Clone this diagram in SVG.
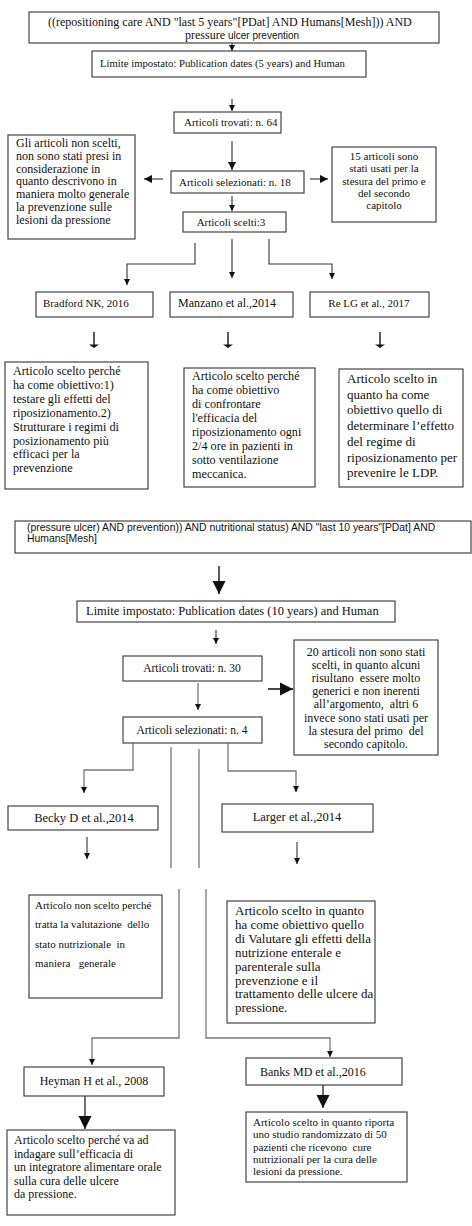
<svg xmlns="http://www.w3.org/2000/svg" width="472" height="1226" viewBox="0 0 472 1226">
<style>
.box{fill:#fff;stroke:#444;stroke-width:1.2}
.t{font-family:"Liberation Serif","Times New Roman",serif;fill:#111}
.s{font-family:"Liberation Sans",Arial,sans-serif;fill:#111}
.c{text-anchor:middle}
.ln{fill:none;stroke:#333;stroke-width:1.1}
.ln2{fill:none;stroke:#777;stroke-width:1.3}
.pre{white-space:pre}
</style>
<defs>
<marker id="as" viewBox="0 0 10 10" refX="10" refY="5" markerWidth="6" markerHeight="6" markerUnits="userSpaceOnUse" orient="auto"><path d="M0,0 L10,5 L0,10 z" fill="#111"/></marker>
<marker id="am" viewBox="0 0 10 10" refX="10" refY="5" markerWidth="8" markerHeight="8" markerUnits="userSpaceOnUse" orient="auto"><path d="M0,0 L10,5 L0,10 z" fill="#111"/></marker>
<marker id="ab" viewBox="0 0 10 10" refX="10" refY="5" markerWidth="13" markerHeight="14" markerUnits="userSpaceOnUse" orient="auto"><path d="M0,0 L10,5 L0,10 z" fill="#111"/></marker>
</defs>

<g id="connectors">
<path class="ln" d="M232,43 V51" marker-end="url(#as)"/>
<path class="ln" d="M232,99 V111" marker-end="url(#as)"/>
<path class="ln" d="M232,141 V170" marker-end="url(#am)"/>
<path class="ln" d="M163,179 H144" marker-end="url(#am)"/>
<path class="ln" d="M310,179 H328" marker-end="url(#am)"/>
<path class="ln" d="M232,196 V211" marker-end="url(#as)"/>
<path class="ln" d="M195,243 V264 H127 V285" marker-end="url(#as)"/>
<path class="ln" d="M232,239 V278" marker-end="url(#as)"/>
<path class="ln" d="M269,239 V264 H332 V279" marker-end="url(#as)"/>
<path class="ln" d="M94,332 V347 M228,332 V347 M380,332 V347" style="stroke-width:1.6"/>
<path d="M89,344.5 H99 L94,348 z M223,344.5 H233 L228,348 z M375,344.5 H385 L380,348 z" fill="#111"/>

<path class="ln" d="M219,566 V594" style="stroke-width:1.6" marker-end="url(#ab)"/>
<path class="ln" d="M216,630 V644" marker-end="url(#as)"/>
<path class="ln2" d="M198,683 V710" marker-end="url(#as)"/>
<path class="ln" d="M268,689 H293" style="stroke-width:1.8" marker-end="url(#ab)"/>
<path class="ln2" d="M133,743 V770 H84 V793" marker-end="url(#as)"/>
<path class="ln2" d="M171,747 V868"/>
<path class="ln2" d="M179,889 V1038 H92 V1065" marker-end="url(#as)"/>
<path class="ln2" d="M199,749 V868"/>
<path class="ln2" d="M206,889 V1038 H330 V1057" marker-end="url(#as)"/>
<path class="ln2" d="M228,743 V771 H296 V792" marker-end="url(#as)"/>
<path class="ln" d="M87,837 V859" marker-end="url(#as)"/>
<path class="ln" d="M297,842 V864" marker-end="url(#as)"/>
<path class="ln" d="M85,1096 V1129" style="stroke-width:1.4" marker-end="url(#ab)"/>
<path class="ln" d="M323,1085 V1108" style="stroke-width:1.4" marker-end="url(#ab)"/>
</g>

<g id="q1"><rect class="box" x="29" y="12" width="410" height="31"/>
<text class="t" x="48" y="26" font-size="12">((repositioning care AND "last 5 years"[PDat] AND Humans[Mesh])) AND</text>
<text x="185" y="39"><tspan class="t" font-size="12">pressure </tspan><tspan class="s" font-size="10">ulcer prevention</tspan></text></g>

<g id="lim1"><rect class="box" x="92" y="51" width="274" height="26"/>
<text class="t" x="100" y="67" font-size="10.7">Limite impostato: Publication dates (5 years) and Human</text></g>

<g id="trov1"><rect class="box" x="174" y="112" width="107" height="21"/>
<text class="t" x="184" y="126" font-size="11">Articoli trovati: n. 64</text></g>

<g id="sel1"><rect class="box" x="171" y="171" width="133" height="22"/>
<text class="t" x="179" y="186" font-size="11">Articoli selezionati: n. 18</text></g>

<g id="nonscelti1"><rect class="box" x="8" y="135" width="127" height="104"/>
<text class="t" x="16" y="147" font-size="12"><tspan x="16">Gli articoli non scelti,</tspan><tspan x="16" dy="12.8">non sono stati presi in</tspan><tspan x="16" dy="12.8">considerazione in</tspan><tspan x="16" dy="12.8">quanto descrivono in</tspan><tspan x="16" dy="12.8">maniera molto generale</tspan><tspan x="16" dy="12.8">la prevenzione sulle</tspan><tspan x="16" dy="12.8">lesioni da pressione</tspan></text></g>

<g id="usati1"><rect class="box" x="332" y="147" width="104" height="75"/>
<text class="t c" x="384" y="160" font-size="11"><tspan x="384">15 articoli sono</tspan><tspan x="384" dy="12.3">stati usati per la</tspan><tspan x="384" dy="12.3">stesura del primo e</tspan><tspan x="384" dy="12.3">del secondo</tspan><tspan x="384" dy="12.3">capitolo</tspan></text></g>

<g id="scelti1"><rect class="box" x="183" y="212" width="103" height="20"/>
<text class="t c" x="231" y="226" font-size="11">Articoli scelti:3</text></g>

<g id="bradford"><rect class="box" x="36" y="292" width="117" height="25"/>
<text class="t" x="43" y="307" font-size="11">Bradford NK, 2016</text></g>
<g id="manzano"><rect class="box" x="170" y="292" width="123" height="25"/>
<text class="t" x="178" y="307" font-size="12">Manzano et al.,2014</text></g>
<g id="relg"><rect class="box" x="310" y="292" width="119" height="25"/>
<text class="t c" x="369" y="307" font-size="11">Re LG et al., 2017</text></g>

<g id="art-bradford"><rect class="box" x="5" y="362" width="143" height="127"/>
<text class="t" x="13" y="375" font-size="12.2"><tspan x="13">Articolo scelto perché</tspan><tspan x="13" dy="13.9">ha come obiettivo:1)</tspan><tspan x="13" dy="13.9">testare gli effetti del</tspan><tspan x="13" dy="13.9">riposizionamento.2)</tspan><tspan x="13" dy="13.9">Strutturare i regimi di</tspan><tspan x="13" dy="13.9">posizionamento più</tspan><tspan x="13" dy="13.9">efficaci per la</tspan><tspan x="13" dy="13.9">prevenzione</tspan></text></g>

<g id="art-manzano"><rect class="box" x="184" y="368" width="131" height="119"/>
<text class="t" x="192" y="380" font-size="12.2"><tspan x="192">Articolo scelto perché</tspan><tspan x="192" dy="14">ha come obiettivo</tspan><tspan x="192" dy="14">di confrontare</tspan><tspan x="192" dy="14">l'efficacia del</tspan><tspan x="192" dy="14">riposizionamento ogni</tspan><tspan x="192" dy="14">2/4 ore in pazienti in</tspan><tspan x="192" dy="14">sotto ventilazione</tspan><tspan x="192" dy="14">meccanica.</tspan></text></g>

<g id="art-relg"><rect class="box" x="339" y="369" width="124" height="118"/>
<text class="t" x="347" y="383" font-size="13"><tspan x="347">Articolo scelto in</tspan><tspan x="347" dy="15.7">quanto ha come</tspan><tspan x="347" dy="15.7">obiettivo quello di</tspan><tspan x="347" dy="15.7">determinare l’effetto</tspan><tspan x="347" dy="15.7">del regime di</tspan><tspan x="347" dy="15.7">riposizionamento per</tspan><tspan x="347" dy="15.7">prevenire le LDP.</tspan></text></g>

<g id="q2"><rect class="box" x="15" y="521" width="456" height="32"/>
<text class="s" x="27" y="531" font-size="10.4"><tspan x="27">(pressure ulcer) AND prevention)) AND nutritional status) AND "last 10 years"[PDat] AND</tspan><tspan x="27" dy="11">Humans[Mesh]</tspan></text></g>

<g id="lim2"><rect class="box" x="77" y="601" width="318" height="21"/>
<text class="t" x="86" y="615" font-size="12.5">Limite impostato: Publication dates (10 years) and Human</text></g>

<g id="trov2"><rect class="box" x="123" y="656" width="139" height="25"/>
<text class="t c" x="192" y="672" font-size="11.5">Articoli trovati: n. 30</text></g>

<g id="sel2"><rect class="box" x="123" y="717" width="139" height="26"/>
<text class="t c" x="192" y="734" font-size="11.5">Articoli selezionati: n. 4</text></g>

<g id="nonscelti2"><rect class="box" x="294" y="640" width="144" height="115"/>
<text class="t c pre" x="366" y="656" font-size="12"><tspan x="366">20 articoli non sono stati</tspan><tspan x="366" dy="13.1">scelti, in quanto alcuni</tspan><tspan x="366" dy="13.1">risultano  essere molto</tspan><tspan x="366" dy="13.1">generici e non inerenti</tspan><tspan x="366" dy="13.1">all’argomento,  altri 6</tspan><tspan x="366" dy="13.1">invece sono stati usati per</tspan><tspan x="366" dy="13.1">la stesura del primo  del</tspan><tspan x="366" dy="13.1">secondo capitolo.</tspan></text></g>

<g id="becky"><rect class="box" x="8" y="806" width="150" height="24"/>
<text class="t c" x="84" y="822" font-size="12.5">Becky D et al.,2014</text></g>
<g id="larger"><rect class="box" x="222" y="804" width="151" height="28"/>
<text class="t c" x="297" y="821" font-size="12.5">Larger et al.,2014</text></g>

<g id="art-becky"><rect class="box" x="29" y="895" width="133" height="103"/>
<text class="t pre" x="35" y="909" font-size="11"><tspan x="35">Articolo non scelto perché</tspan><tspan x="35" dy="19.3">tratta la valutazione  dello</tspan><tspan x="35" dy="19.3">stato nutrizionale  in</tspan><tspan x="35" dy="19.3">maniera   generale</tspan></text></g>

<g id="art-larger"><rect class="box" x="227" y="901" width="148" height="122"/>
<text class="t" x="235" y="915" font-size="13"><tspan x="235">Articolo scelto in quanto</tspan><tspan x="235" dy="13.9">ha come obiettivo quello</tspan><tspan x="235" dy="13.9">di Valutare gli effetti della</tspan><tspan x="235" dy="13.9">nutrizione enterale e</tspan><tspan x="235" dy="13.9">parenterale sulla</tspan><tspan x="235" dy="13.9">prevenzione e il</tspan><tspan x="235" dy="13.9">trattamento delle ulcere da</tspan><tspan x="235" dy="13.9">pressione.</tspan></text></g>

<g id="heyman"><rect class="box" x="24" y="1067" width="140" height="29"/>
<text class="t c" x="94" y="1085" font-size="12">Heyman H et al., 2008</text></g>
<g id="banks"><rect class="box" x="246" y="1058" width="156" height="27"/>
<text class="t" x="260" y="1076" font-size="12">Banks MD et al.,2016</text></g>

<g id="art-heyman"><rect class="box" x="7" y="1130" width="168" height="85"/>
<text class="t" x="14" y="1144" font-size="12"><tspan x="14">Articolo scelto perché va ad</tspan><tspan x="14" dy="13.5">indagare sull’efficacia di</tspan><tspan x="14" dy="13.5">un integratore alimentare orale</tspan><tspan x="14" dy="13.5">sulla cura delle ulcere</tspan><tspan x="14" dy="13.5">da pressione.</tspan></text></g>

<g id="art-banks"><rect class="box" x="246" y="1112" width="161" height="70"/>
<text class="t pre" x="253" y="1126" font-size="11"><tspan x="253">Articolo scelto in quanto riporta</tspan><tspan x="253" dy="12.3">uno studio randomizzato di 50</tspan><tspan x="253" dy="12.3">pazienti che ricevono  cure</tspan><tspan x="253" dy="12.3">nutrizionali per la cura delle</tspan><tspan x="253" dy="12.3">lesioni da pressione.</tspan></text></g>
</svg>
